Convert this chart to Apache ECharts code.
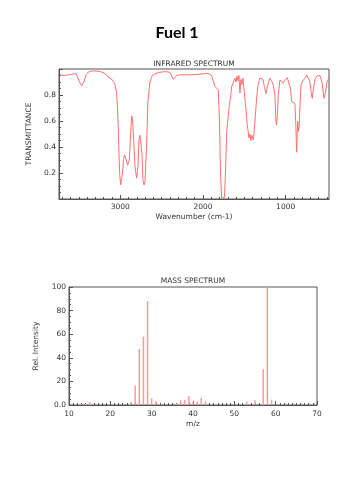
<!DOCTYPE html>
<html><head><meta charset="utf-8">
<script src="https://cdn.jsdelivr.net/npm/echarts@6/dist/echarts.min.js"></script>
<style>html,body{margin:0;padding:0;background:#fff}#c{width:354px;height:500px}</style>
</head><body><div id="c"></div>
<script>
// IR spectrum: wavenumber (cm-1) and transmittance
const irWavenumber = [3729,3705,3681,3657,3632,3608,3584,3560,3536,3512,3493,3467,3439,3415,3391,3342,3294,3245,3197,3149,3113,3088,3064,3044,3034,3024,3016,3006,2995,2985,2973,2961,2949,2940,2927,2911,2891,2879,2862,2850,2838,2822,2802,2786,2774,2762,2750,2738,2726,2713,2701,2683,2665,2641,2617,2580,2520,2460,2399,2359,2339,2318,2278,2157,2036,1940,1895,1855,1815,1800,1788,1774,1758,1740,1728,1713,1697,1681,1667,1653,1637,1613,1601,1589,1577,1565,1553,1541,1529,1517,1505,1493,1481,1472,1463,1453,1445,1432,1420,1408,1392,1384,1372,1351,1336,1312,1290,1275,1257,1238,1220,1190,1172,1150,1130,1118,1110,1100,1090,1069,1051,1029,1009,981,960,942,928,909,888,876,868,860,855,845,836,827,815,791,767,746,724,706,688,678,664,646,625,606,585,561,537,519,501,477];
const irTransmittance = [0.955,0.96,0.95,0.965,0.955,0.965,0.96,0.97,0.965,0.95,0.9,0.87,0.9,0.955,0.975,0.985,0.985,0.98,0.97,0.94,0.925,0.91,0.88,0.815,0.7,0.55,0.35,0.18,0.11,0.15,0.2,0.3,0.34,0.33,0.3,0.26,0.3,0.45,0.64,0.6,0.45,0.25,0.16,0.25,0.45,0.49,0.49,0.35,0.15,0.108,0.13,0.4,0.75,0.9,0.945,0.965,0.975,0.98,0.975,0.92,0.935,0.95,0.955,0.955,0.96,0.967,0.95,0.865,0.84,0.6,0.2,0.01,0.0,0.01,0.2,0.52,0.62,0.72,0.78,0.865,0.88,0.93,0.9,0.945,0.91,0.95,0.815,0.92,0.88,0.93,0.85,0.775,0.7,0.62,0.56,0.52,0.47,0.5,0.45,0.49,0.455,0.5,0.595,0.775,0.87,0.93,0.94,0.92,0.86,0.81,0.87,0.93,0.91,0.877,0.8,0.6,0.57,0.65,0.8,0.915,0.9,0.89,0.915,0.933,0.92,0.85,0.75,0.74,0.735,0.55,0.36,0.5,0.6,0.52,0.57,0.72,0.877,0.91,0.93,0.954,0.945,0.9,0.8,0.775,0.85,0.92,0.945,0.954,0.95,0.9,0.775,0.82,0.9,0.93];
// IR x-axis tick labels
const irTickLabels = [1000, 2000, 3000];
const irMinorTicks = [500,600,700,800,900,1100,1200,1300,1400,1500,1600,1700,1800,1900,2100,2200,2300,2400,2500,2600,2700,2800,2900,3100,3200,3300,3400,3500,3600,3700];
// Mass spectrum: m/z and relative intensity
const msMz = [13,14,15,25,26,27,28,29,30,31,32,36,37,38,39,40,41,42,43,53,55,57,58,59];
const msIntensity = [0.5,1,2.5,2.5,16.5,47.5,58,88,5.7,3.4,0.5,1,4,4.3,7.7,2.3,3,6,3,2.8,4,30.4,100,4.5];

const irData = irWavenumber.map((w,i)=>[w, irTransmittance[i]]);
const msData = msMz.map((m,i)=>[m, msIntensity[i]]);

const small = {fontFamily:'DejaVu Sans', fontSize:7.5, color:'#333'};
const axisLine = {show:true, lineStyle:{color:'#555', width:1}};
const tickStyle = {color:'#555', width:1};

const chart = echarts.init(document.getElementById('c'), null, {renderer:'canvas'});
chart.setOption({
  animation:false,
  title:[
    {text:'Fuel 1', left:'center', top:20, textStyle:{fontFamily:'Lato', fontWeight:'bold', fontSize:16, color:'#000'}},
    {text:'INFRARED SPECTRUM', left:194, textAlign:'center', top:60, padding:0, textStyle:Object.assign({fontWeight:'normal'}, small)},
    {text:'MASS SPECTRUM', left:193, textAlign:'center', top:277, padding:0, textStyle:Object.assign({fontWeight:'normal'}, small)}
  ],
  grid:[
    {left:59, top:69, width:270, height:130, show:true, borderColor:'#555', borderWidth:1, backgroundColor:'#fff'},
    {left:69, top:287, width:248, height:118, show:true, borderColor:'#555', borderWidth:1, backgroundColor:'#fff'}
  ],
  xAxis:[
    {gridIndex:0, type:'value', inverse:true, min:476, max:3741,
     name:'Wavenumber (cm-1)', nameLocation:'middle', nameGap:14, nameTextStyle:small,
     axisLine:axisLine,
     axisTick:{show:true, inside:true, length:4, lineStyle:tickStyle, customValues:irTickLabels},
     axisLabel:Object.assign({margin:4, customValues:irTickLabels, formatter:v=>String(v)}, small),
     splitLine:{show:false}},
    {gridIndex:1, type:'value', min:10, max:70, interval:10,
     name:'m/z', nameLocation:'middle', nameGap:15, nameTextStyle:small,
     axisLine:axisLine, axisTick:{show:true, inside:true, length:4, lineStyle:tickStyle},
     minorTick:{show:true, splitNumber:10, length:2, lineStyle:tickStyle},
     axisLabel:Object.assign({margin:5}, small), splitLine:{show:false}},
    {gridIndex:0, type:'value', inverse:true, min:476, max:3741, position:'bottom',
     axisLine:{show:false},
     axisTick:{show:true, inside:true, length:2, lineStyle:tickStyle, customValues:irMinorTicks},
     axisLabel:{show:false}, splitLine:{show:false}}
  ],
  yAxis:[
    {gridIndex:0, type:'value', min:0, max:1, interval:0.2,
     name:'TRANSMITTANCE', nameLocation:'middle', nameGap:25, nameTextStyle:small,
     axisLine:axisLine, axisTick:{show:true, inside:true, length:4, lineStyle:tickStyle},
     minorTick:{show:true, splitNumber:4, length:2, lineStyle:tickStyle},
     axisLabel:Object.assign({margin:3, formatter:v=> (v===0||v===1)?'':v.toFixed(1)}, small),
     splitLine:{show:false}},
    {gridIndex:1, type:'value', min:0, max:100, interval:20,
     name:'Rel. Intensity', nameLocation:'middle', nameGap:29, nameTextStyle:small,
     axisLine:axisLine, axisTick:{show:true, inside:true, length:4, lineStyle:tickStyle},
     minorTick:{show:true, splitNumber:4, length:2, lineStyle:tickStyle},
     axisLabel:Object.assign({margin:3, formatter:v=> v===0?'0.0':String(v)}, small),
     splitLine:{show:false}}
  ],
  series:[
    {type:'line', xAxisIndex:0, yAxisIndex:0, data:irData, showSymbol:false, symbol:'none',
     lineStyle:{color:'#ff7070', width:1}, clip:true},
    {type:'bar', xAxisIndex:1, yAxisIndex:1, data:msData, barWidth:1.5,
     itemStyle:{color:'#ff9a9a'}}
  ]
});
</script></body></html>
